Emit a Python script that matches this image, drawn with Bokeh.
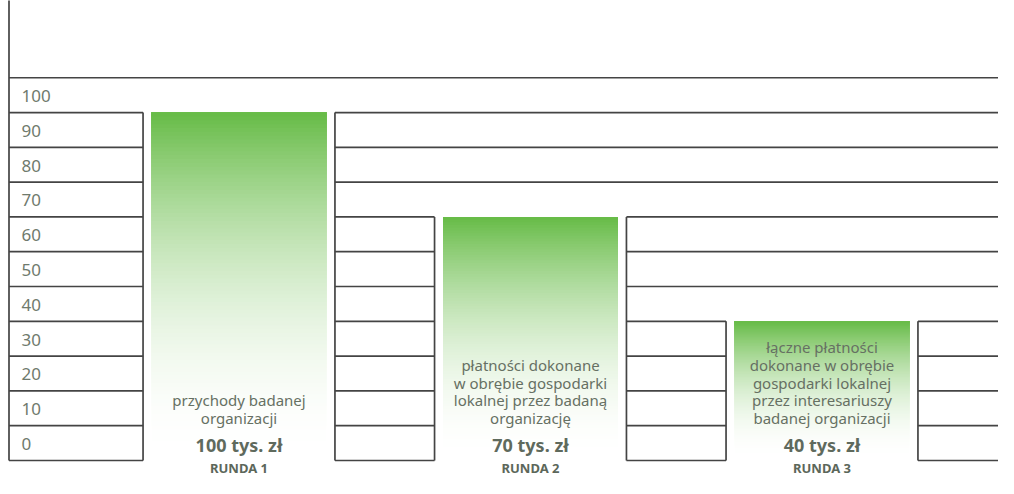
from bokeh.plotting import figure
from bokeh.models import Range1d
from bokeh.core.properties import value
from bokeh.embed import file_html
from bokeh.resources import INLINE

# ---- data ----
rounds = ["RUNDA 1", "RUNDA 2", "RUNDA 3"]
values = [100, 70, 40]
value_labels = ["100 tys. zł", "70 tys. zł", "40 tys. zł"]
descriptions = [
    ["przychody badanej", "organizacji"],
    ["płatności dokonane", "w obrębie gospodarki", "lokalnej przez badaną", "organizację"],
    ["łączne płatności", "dokonane w obrębie", "gospodarki lokalnej", "przez interesariuszy", "badanej organizacji"],
]
tick_values = [0, 10, 20, 30, 40, 50, 60, 70, 80, 90, 100]
tick_labels = ["0", "10", "20", "30", "40", "50", "60", "70", "80", "90", "100"]
grid_top = 110

# ---- layout constants ----
PX_X = 291.5
PX_Y = 3.4797
W, H = 998, 478
bar_w = 0.6
pad = 8.5 / PX_X
x_start = 1 - 238.5 / PX_X
x_end = x_start + W / PX_X
y_start = (460 - H) / PX_Y
y_end = 460 / PX_Y
axis_x = 1 - (238.5 - 8.5) / PX_X
label_x = 1 - (238.5 - 21) / PX_X
FONT = "Noto Sans"
LINE = "#444444"
GREEN = (102, 187, 70)

p = figure(width=W, height=H, x_range=Range1d(x_start, x_end), y_range=Range1d(y_start, y_end),
           output_backend="svg", toolbar_location=None, min_border=0)
p.axis.visible = False
p.grid.visible = False
p.outline_line_color = None
p.background_fill_color = "white"
p.border_fill_color = "white"

xs = [i + 1 for i in range(len(values))]

# ---- gradient bars (opaque bands, drawn bottom to top, each reaching the bar top) ----
N = 90
for xc, v in zip(xs, values):
    lefts, rights, bottoms, tops, cols = [], [], [], [], []
    for k in range(N):
        b = v * k / N
        t = 1 - (k + 0.5) / N  # distance fraction from top
        a = (1 - t) ** 2
        r, g, bl = [round(255 - a * (255 - c)) for c in GREEN]
        lefts.append(xc - bar_w / 2)
        rights.append(xc + bar_w / 2)
        bottoms.append(b)
        tops.append(v)
        cols.append("#%02x%02x%02x" % (r, g, bl))
    p.quad(left=lefts, right=rights, bottom=bottoms, top=tops, fill_color=cols, line_color=None)

# ---- grid: horizontal segments broken around bars ----
x0s, y0s, x1s, y1s = [], [], [], []
for lev in tick_values + [grid_top]:
    gaps = sorted((xc - bar_w / 2 - pad, xc + bar_w / 2 + pad) for xc, v in zip(xs, values) if v >= lev)
    cur = axis_x
    for g0, g1 in gaps:
        x0s.append(cur); x1s.append(g0); y0s.append(lev); y1s.append(lev)
        cur = g1
    x0s.append(cur); x1s.append(x_end + 0.05); y0s.append(lev); y1s.append(lev)
# vertical edges beside bars
for xc, v in zip(xs, values):
    for ex in (xc - bar_w / 2 - pad, xc + bar_w / 2 + pad):
        x0s.append(ex); x1s.append(ex); y0s.append(0); y1s.append(v)
# main vertical axis
x0s.append(axis_x); x1s.append(axis_x); y0s.append(0); y1s.append(y_end + 5)
p.segment(x0=x0s, y0=y0s, x1=x1s, y1=y1s, line_color=LINE, line_width=1.7)

# ---- tick labels ----
p.text(x=[label_x] * len(tick_values), y=[v + 4.77 for v in tick_values], text=tick_labels,
       text_font=value(FONT), text_font_size="17px", text_color="#6f7a6d",
       text_align="left", text_baseline="middle")

# ---- bar descriptions ----
spacing = 17.6 / PX_Y
last_mid = (460 - 417.2) / PX_Y
dx, dy, dt = [], [], []
for xc, lines in zip(xs, descriptions):
    n = len(lines)
    for k, ln in enumerate(lines):
        dx.append(xc)
        dy.append(last_mid + (n - 1 - k) * spacing)
        dt.append(ln)
p.text(x=dx, y=dy, text=dt, text_font=value(FONT), text_font_size="15px", text_color="#667063",
       text_align="center", text_baseline="middle")

# ---- values ----
p.text(x=xs, y=[(460 - 444.0) / PX_Y] * len(xs), text=value_labels, text_font=value(FONT),
       text_font_size="18px", text_font_style="bold", text_color="#5f6a5d",
       text_align="center", text_baseline="middle")

# ---- round labels ----
p.text(x=xs, y=[(460 - 467.8) / PX_Y] * len(xs), text=rounds, text_font=value(FONT), text_font_size="13px",
       text_font_style="bold", text_color="#5c675a", text_align="center", text_baseline="middle")

open("out.html", "w").write(file_html(p, INLINE))
